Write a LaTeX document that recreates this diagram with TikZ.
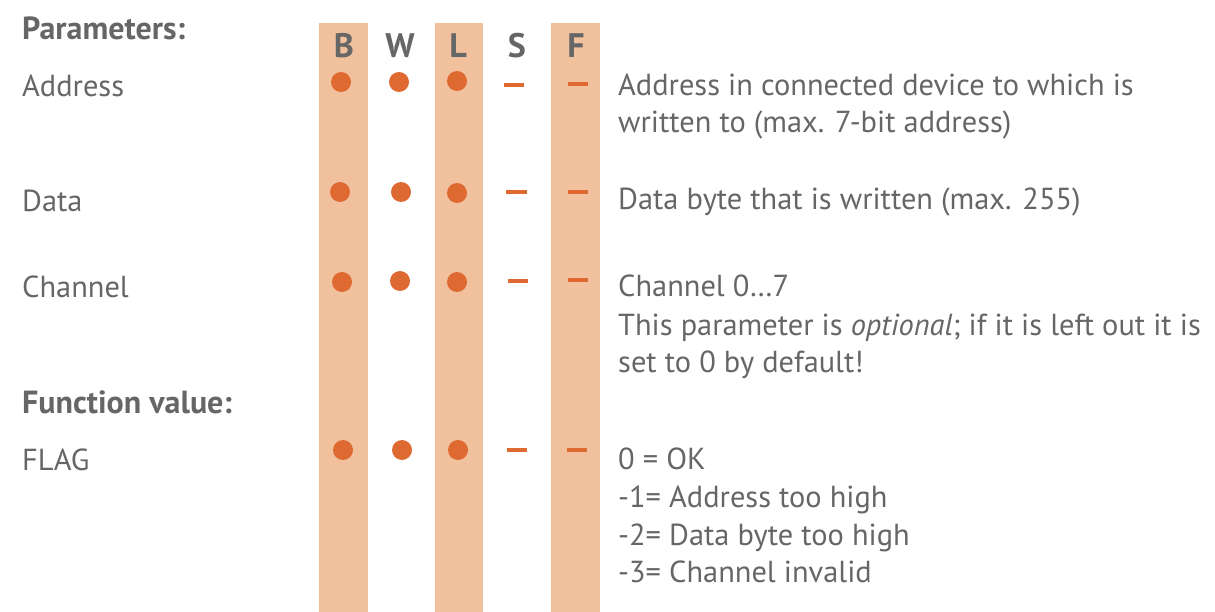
\documentclass[tikz,border=0pt]{standalone}
\usepackage{fontspec}
\setmainfont{PT Sans}
\definecolor{txt}{HTML}{666666}
\definecolor{stripe}{HTML}{F1C19E}
\definecolor{mark}{HTML}{DE6A32}
\begin{document}
\begin{tikzpicture}[x=1pt,y=-1pt,
  lbl/.style={anchor=base west,inner sep=0pt,text=txt,font=\fontsize{30.4}{36}\selectfont},
  head/.style={anchor=base west,inner sep=0pt,text=txt,font=\fontsize{32}{38}\selectfont\bfseries},
  col/.style={anchor=base,inner sep=0pt,text=txt,font=\fontsize{34}{40}\selectfont\bfseries},
  dot/.style={circle,fill=mark,inner sep=0pt,minimum size=20pt},
  dashmark/.style={draw=mark,line width=3.6pt}]
\useasboundingbox (0,0) rectangle (1215,612);
% stripes
\fill[stripe] (319,23) rectangle (368,612);
\fill[stripe] (435,23) rectangle (483,612);
\fill[stripe] (551,23) rectangle (600,612);
% column headers
\node[col] (hB) at (344,58) {B};
\node[col] (hW) at (400,58) {W};
\node[col] (hL) at (458,58) {L};
\node[col] (hS) at (517,58) {S};
\node[col] (hF) at (576,58) {F};
% left labels
\node[head] (params) at (22,40) {Parameters:};
\node[lbl] (address) at (22,97) {Address};
\node[lbl] (data) at (22,212) {Data};
\node[lbl] (channel) at (22,298) {Channel};
\node[head] (funcval) at (22,413) {Function value:};
\node[lbl] (flag) at (22,470) {FLAG};
% marks
\node[dot] (aB) at (341,82) {};
\node[dot] (aW) at (399,82) {};
\node[dot] (aL) at (457,81) {};
\draw[dashmark] (504,85) -- (524,85);
\draw[dashmark] (568,84) -- (588,84);
\node[dot] (dB) at (340,192) {};
\node[dot] (dW) at (401,192) {};
\node[dot] (dL) at (457,193) {};
\draw[dashmark] (506,192) -- (527,192);
\draw[dashmark] (568,192) -- (588,192);
\node[dot] (cB) at (342,282) {};
\node[dot] (cW) at (400,281) {};
\node[dot] (cL) at (457,282) {};
\draw[dashmark] (508,281) -- (528,281);
\draw[dashmark] (568,280) -- (588,280);
\node[dot] (fB) at (343,450) {};
\node[dot] (fW) at (402,450) {};
\node[dot] (fL) at (458,450) {};
\draw[dashmark] (507,450) -- (527,450);
\draw[dashmark] (567,450) -- (587,450);
% descriptions
\node[lbl] (t1) at (618,96) {Address in connected device to which is};
\node[lbl] (t2) at (618,133) {written to (max. 7-bit address)};
\node[lbl] (t3) at (618,210) {Data byte that is written (max. 255)};
\node[lbl] (t4) at (618,297) {Channel 0…7};
\node[lbl] (t5) at (618,335) {This parameter is \textit{optional}; if it is left out it is};
\node[lbl] (t6) at (618,372) {set to 0 by default!};
\node[lbl] (t7) at (618,469) {0 = OK};
\node[lbl] (t8) at (618,507) {-1= Address too high};
\node[lbl] (t9) at (618,545) {-2= Data byte too high};
\node[lbl] (t10) at (618,582) {-3= Channel invalid};
\end{tikzpicture}
\end{document}
